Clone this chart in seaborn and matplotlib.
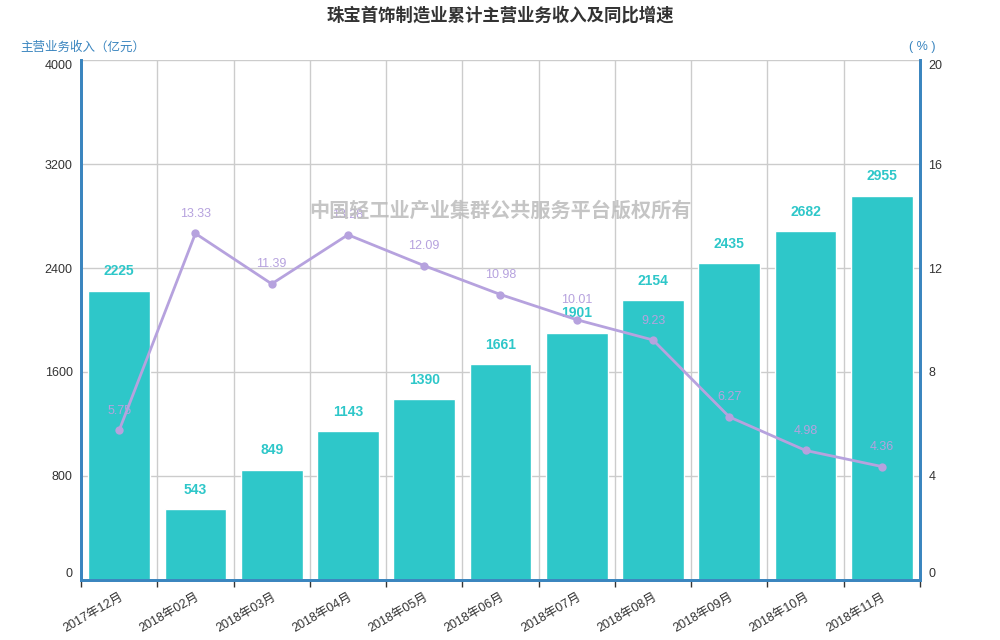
import matplotlib
matplotlib.use("Agg")
import matplotlib.pyplot as plt
import seaborn as sns
import pandas as pd
import numpy as np

months = ["2017年12月", "2018年02月", "2018年03月", "2018年04月", "2018年05月", "2018年06月",
          "2018年07月", "2018年08月", "2018年09月", "2018年10月", "2018年11月"]
revenue = [2225, 543, 849, 1143, 1390, 1661, 1901, 2154, 2435, 2682, 2955]
growth = [5.75, 13.33, 11.39, 13.28, 12.09, 10.98, 10.01, 9.23, 6.27, 4.98, 4.36]
left_ticks = [0, 800, 1600, 2400, 3200, 4000]
right_ticks = [0, 4, 8, 12, 16, 20]

sns.set_theme(style="white")
plt.rcParams['font.family'] = ['Liberation Sans', 'Noto Sans CJK SC', 'DejaVu Sans']

bar_color = "#2EC7C9"
line_color = "#B6A2DE"
axis_color = "#3A85BF"
text_color = "#333333"

df = pd.DataFrame({"month": months, "revenue": revenue, "growth": growth})

fig = plt.figure(figsize=(10, 6.4), dpi=100)
ax = fig.add_axes([0.081, 0.094, 0.839, 0.812])

sns.barplot(data=df, x="month", y="revenue", color=bar_color, width=0.81,
            saturation=1, ax=ax, zorder=2)
ax.set_xlim(-0.5, len(months) - 0.5)
ax.set_ylim(0, 4000)
ax.set_yticks(left_ticks)
ax.set_yticklabels([str(t) for t in left_ticks], color=text_color, fontsize=9)
ax.set_xlabel("")
ax.set_ylabel("")

# gridlines
for t in left_ticks[1:]:
    ax.axhline(t, color="#CCCCCC", lw=1, zorder=1)
ax.axhline(0, color="#CCCCCC", lw=1, zorder=3)
boundaries = np.arange(-0.5, len(months), 1.0)
for b in boundaries[1:-1]:
    ax.axvline(b, color="#CCCCCC", lw=1, zorder=1)

ax.set_xticks(range(len(months)))
ax.set_xticklabels(months, rotation=30, ha="right", rotation_mode="anchor",
                   fontsize=9, color=text_color)
ax.tick_params(axis="x", length=0, pad=8)
ax.set_xticks(boundaries, minor=True)
ax.tick_params(axis="x", which="minor", length=5, color=text_color, direction="out", bottom=True)
ax.tick_params(axis="y", length=0, pad=6)
ylabs = ax.get_yticklabels()
ylabs[0].set_va("bottom")
ylabs[-1].set_va("top")

for s in ["top"]:
    ax.spines[s].set_visible(False)
for s in ["left", "right", "bottom"]:
    ax.spines[s].set_color(axis_color)
    ax.spines[s].set_linewidth(2)

for i, v in enumerate(revenue):
    ax.text(i, v + 150, str(v), ha="center", va="center", color=bar_color,
            fontsize=10, fontweight="bold", zorder=5)

ax2 = ax.twinx()
sns.lineplot(x=np.arange(len(months)), y=growth, ax=ax2, color=line_color, lw=2,
             marker="o", markersize=6, markeredgewidth=0, zorder=4)
ax2.set_ylim(0, 20)
ax2.set_yticks(right_ticks)
ax2.set_yticklabels([str(t) for t in right_ticks], color=text_color, fontsize=9)
ax2.tick_params(axis="y", length=0, pad=6)
rlabs = ax2.get_yticklabels()
rlabs[0].set_va("bottom")
rlabs[-1].set_va("top")
ax2.spines["top"].set_visible(False)
for s in ["left", "right", "bottom"]:
    ax2.spines[s].set_color(axis_color)
    ax2.spines[s].set_linewidth(2)
ax2.grid(False)
for i, v in enumerate(growth):
    ax2.text(i, v + 0.75, f"{v:.2f}", ha="center", va="center", color=line_color,
             fontsize=9, zorder=5)

fig.text(0.5, 0.977, "珠宝首饰制造业累计主营业务收入及同比增速", ha="center", va="center",
         fontsize=12.5, fontweight="bold", color=text_color)
fig.text(0.02, 0.926, "主营业务收入（亿元）", ha="left", va="center", fontsize=9, color=axis_color)
fig.text(0.922, 0.926, "( % )", ha="center", va="center", fontsize=9, color=axis_color)
fig.text(0.5, 0.67, "中国轻工业产业集群公共服务平台版权所有", ha="center", va="center",
         fontsize=14.5, fontweight="bold", color="#BBBBBB", alpha=0.85, zorder=10)

fig.savefig("out.png", dpi=100)
